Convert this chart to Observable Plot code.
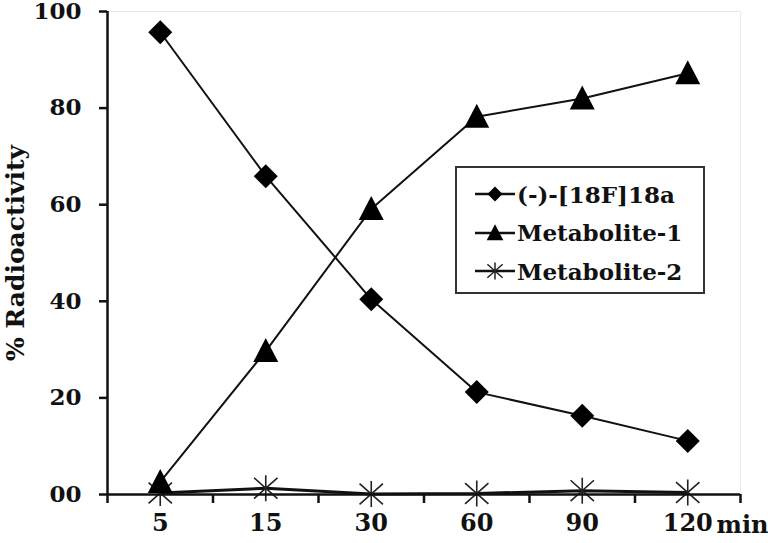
<!DOCTYPE html>
<html>
<head>
<meta charset="utf-8">
<script src="https://cdn.jsdelivr.net/npm/d3@7"></script>
<script src="https://cdn.jsdelivr.net/npm/@observablehq/plot@0.6"></script>
<style>
  html, body { margin: 0; padding: 0; background: #fff; }
  #wrap { position: relative; width: 768px; height: 543px; }
  #legend { position: absolute; left: 455px; top: 166px; width: 246px; height: 124px;
    border: 2px solid #333; background: #fff; box-sizing: content-box;
    font-family: "DejaVu Serif", serif; font-weight: bold; font-size: 23px; color: #111; }
  .row { position: absolute; left: 0; height: 30px; display: flex; align-items: center; white-space: nowrap; }
  .row svg { margin-left: 18px; margin-right: 2px; }
  svg text { font-family: "DejaVu Serif", serif; }
</style>
</head>
<body>
<div id="wrap"></div>
<script>
const times = ["5", "15", "30", "60", "90", "120"];
const parent = [95.7, 65.9, 40.4, 21.2, 16.3, 11.1];
const met1 = [2.6, 29.7, 59.1, 78.2, 82.0, 87.2];
const met2 = [0.3, 1.3, 0.1, 0.2, 0.8, 0.4];
const seriesNames = ["(-)-[18F]18a", "Metabolite-1", "Metabolite-2"];
const yTicks = [0, 20, 40, 60, 80, 100];
const xUnit = "min";
const yLabel = "% Radioactivity";

const diamond = {draw(ctx, size) { const r = Math.sqrt(size / Math.PI);
  ctx.moveTo(0, -r); ctx.lineTo(r, 0); ctx.lineTo(0, r); ctx.lineTo(-r, 0); ctx.closePath(); }};
const triangle = {draw(ctx, size) { const r = Math.sqrt(size / Math.PI);
  ctx.moveTo(0, -1.08 * r); ctx.lineTo(1.04 * r, 0.92 * r); ctx.lineTo(-1.04 * r, 0.92 * r); ctx.closePath(); }};
const asterisk = {draw(ctx, size) { const r = Math.sqrt(size / Math.PI);
  ctx.moveTo(0, -r); ctx.lineTo(0, r);
  ctx.moveTo(-0.9 * r, -0.8 * r); ctx.lineTo(0.9 * r, 0.8 * r);
  ctx.moveTo(0.9 * r, -0.8 * r); ctx.lineTo(-0.9 * r, 0.8 * r); }};

const rows = (vals, s) => vals.map((v, i) => ({x: i + 0.5, y: v, s}));
const d0 = rows(parent, seriesNames[0]);
const d1 = rows(met1, seriesNames[1]);
const d2 = rows(met2, seriesNames[2]);
const centers = times.map((t, i) => i + 0.5);
const bounds = d3.range(times.length + 1);

const font = "DejaVu Serif, serif";

const chart = Plot.plot({
  width: 768, height: 543,
  marginLeft: 107, marginRight: 28, marginTop: 11, marginBottom: 49,
  style: {fontFamily: font, fontWeight: "bold", fontSize: "24px", color: "#111", background: "#fff", overflow: "visible"},
  x: {domain: [0, times.length], axis: null},
  y: {domain: [0, 100], axis: null},
  marks: [
    Plot.ruleY([100], {stroke: "#e8e8e8", strokeWidth: 1}),
    Plot.ruleX([times.length], {stroke: "#ececec", strokeWidth: 1}),
    Plot.line(d2, {x: "x", y: "y", stroke: "#111", strokeWidth: 3}),
    Plot.dot(d2, {x: "x", y: "y", symbol: asterisk, r: 13, stroke: "#222", strokeWidth: 1.6, fill: "none"}),
    Plot.ruleY([0], {stroke: "#111", strokeWidth: 2.5}),
    Plot.ruleX([0], {stroke: "#111", strokeWidth: 2.5}),
    Plot.axisY({ticks: yTicks, tickSize: 8, tickPadding: 18, strokeWidth: 2.5,
      tickFormat: d => d === 0 ? "00" : String(d), fontSize: 23, fontWeight: "bold", label: null}),
    Plot.axisX({ticks: bounds, tickSize: 9, strokeWidth: 2.5, tickFormat: () => "", label: null}),
    Plot.axisX({ticks: centers, tickSize: 0, tickPadding: 19, tickFormat: d => times[Math.round(d - 0.5)],
      fontSize: 24, fontWeight: "bold", label: null}),
    Plot.text([xUnit], {x: times.length, y: 0, dx: -24, dy: 31, textAnchor: "start", fontSize: 24, fontWeight: "bold"}),
    Plot.text([yLabel], {x: 0, y: 50, dx: -92, rotate: -90, fontSize: 25, fontWeight: "bold"}),
    Plot.line(d0, {x: "x", y: "y", stroke: "#111", strokeWidth: 2}),
    Plot.line(d1, {x: "x", y: "y", stroke: "#111", strokeWidth: 2}),
    Plot.dot(d0, {x: "x", y: "y", symbol: diamond, r: 12, fill: "#000", stroke: "none"}),
    Plot.dot(d1, {x: "x", y: "y", symbol: triangle, r: 12, fill: "#000", stroke: "none"})
  ]
});
const wrap = document.getElementById("wrap");
wrap.appendChild(chart);

// legend
const legend = document.createElement("div");
legend.id = "legend";
const syms = [diamond, triangle, asterisk];
const symR = [7.5, 8, 8.5];
seriesNames.forEach((name, i) => {
  const row = document.createElement("div");
  row.className = "row";
  row.style.top = (11 + i * 38.5) + "px";
  const svg = d3.create("svg").attr("width", 40).attr("height", 30);
  svg.append("line").attr("x1", 0).attr("x2", 40).attr("y1", 15).attr("y2", 15).attr("stroke", "#111").attr("stroke-width", 2.5);
  const p = d3.path();
  syms[i].draw(p, symR[i] * symR[i] * Math.PI);
  svg.append("path").attr("transform", "translate(20,15)").attr("d", p.toString())
    .attr("fill", i === 2 ? "none" : "#000").attr("stroke", i === 2 ? "#222" : "none").attr("stroke-width", 1.5);
  row.appendChild(svg.node());
  const span = document.createElement("span");
  span.textContent = name;
  row.appendChild(span);
  legend.appendChild(row);
});
wrap.appendChild(legend);
</script>
</body>
</html>
